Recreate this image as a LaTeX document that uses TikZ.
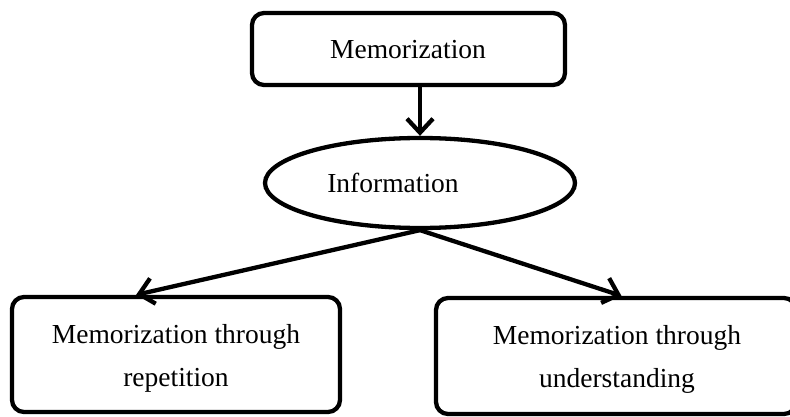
\documentclass[tikz,border=0pt]{standalone}
\usepackage{fontspec}
\setmainfont{Liberation Serif}
\usetikzlibrary{shapes.geometric,arrows.meta,calc}
\begin{document}
\begin{tikzpicture}[x=1pt,y=-1pt,
  box/.style={draw=black,line width=4.3pt,rounded corners=12pt,inner sep=0pt},
  ell/.style={draw=black,line width=4.3pt,ellipse,inner sep=0pt},
  txt/.style={font=\fontsize{27.5}{43}\selectfont,align=center,inner sep=0pt},
  conn/.style={line width=4.3pt,-{Straight Barb[length=14pt,width=26pt,line width=4.3pt]}}]
\useasboundingbox (0,0) rectangle (790,417);
\node[box,minimum width=313pt,minimum height=72pt] (top) at (408.5,49) {};
\node[txt] (toptxt) at (408,50) {Memorization};
\node[ell,minimum width=310pt,minimum height=90pt] (info) at (420,183) {};
\node[txt] (infotxt) at (393,183) {Information};
\node[box,minimum width=328pt,minimum height=115pt] (left) at (176,354.5) {};
\node[txt] (lefttxt) at (176,358) {Memorization through\\repetition};
\node[box,minimum width=360pt,minimum height=116pt] (right) at (616,356) {};
\node[txt] (righttxt) at (617,359) {Memorization through\\understanding};
\coordinate (ltip) at ($(left.north west)!0.38!(left.north east)$);
\coordinate (rtip) at ($(right.north west)!0.515!(right.north east)$);
\draw[conn] (top.south -| info.north) -- (info.north);
\draw[conn] (info.south) -- (ltip);
\draw[conn] (info.south) -- (rtip);
\end{tikzpicture}
\end{document}
